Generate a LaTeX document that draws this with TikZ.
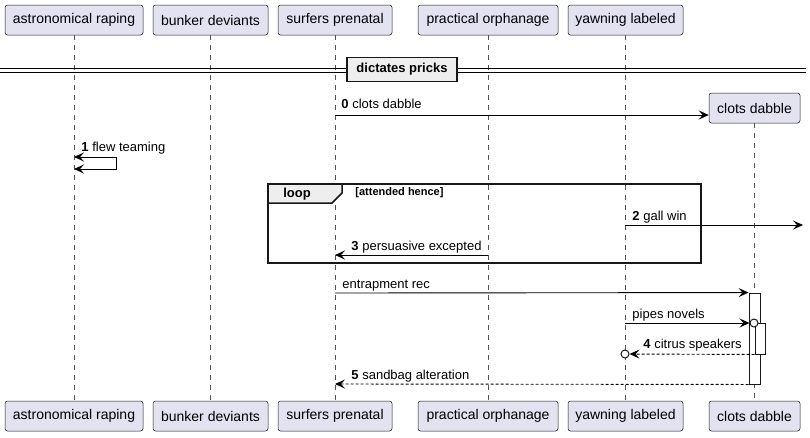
\documentclass[tikz,border=0pt]{standalone}
\usepackage{fontspec}
\setmainfont{Liberation Sans}
\usetikzlibrary{arrows.meta,positioning,shapes.misc}
\definecolor{partfill}{HTML}{E2E2F0}
\definecolor{partline}{HTML}{181818}
\definecolor{grpfill}{HTML}{EEEEEE}

\begin{document}
\begin{tikzpicture}
[x=1pt, y=-1pt, line width=0.9pt, >={Stealth[length=10pt,width=9pt,inset=4pt]},
part/.style={rectangle, rounded corners=2.5pt, draw=partline, line width=0.5pt, fill=partfill, minimum height=30pt, inner xsep=3pt, font=\fontsize{14}{16}\selectfont},
life/.style={draw=partline!75, line width=0.5pt, dash pattern=on 5pt off 5pt},
msg/.style={->, line width=0.9pt},
reply/.style={->, line width=0.9pt, dash pattern=on 3pt off 2pt},
lbl/.style={anchor=base west, inner sep=0pt, font=\fontsize{13}{15}\selectfont},
actbox/.style={rectangle, draw=partline, fill=white, line width=0.9pt, minimum width=11pt, inner sep=0pt},
endo/.style={circle, draw=partline, fill=white, line width=1pt, minimum size=8pt, inner sep=0pt},
grp/.style={rectangle, draw=partline, fill=grpfill, line width=1.5pt, inner xsep=2pt, font=\fontsize{13}{15}\selectfont\bfseries}]

\useasboundingbox (0,0) rectangle (810,437);

% participants, top
\node[part, minimum width=138pt] (astro) at (74,20) {astronomical raping};
\node[part, minimum width=115pt] (bunker) at (210.5,20) {bunker deviants};
\node[part, minimum width=114pt] (surf) at (335,20) {surfers prenatal};
\node[part, minimum width=140pt] (pract) at (488,20) {practical orphanage};
\node[part, minimum width=115pt] (yawn) at (625.5,20) {yawning labeled};

% participants, bottom
\node[part, minimum width=138pt] (astroB) at (74,416) {astronomical raping};
\node[part, minimum width=115pt] (bunkerB) at (210.5,416) {bunker deviants};
\node[part, minimum width=114pt] (surfB) at (335,416) {surfers prenatal};
\node[part, minimum width=140pt] (practB) at (488,416) {practical orphanage};
\node[part, minimum width=115pt] (yawnB) at (625.5,416) {yawning labeled};
\node[part, minimum width=91pt] (clotsB) at (754.5,416) {clots dabble};

% created participant
\node[part, minimum width=91pt] (clots) at (754.5,108) {clots dabble};

% lifelines
\draw[life] (astro) -- (astroB);
\draw[life] (bunker) -- (bunkerB);
\draw[life] (surf) -- (surfB);
\draw[life] (pract) -- (practB);
\draw[life] (yawn) -- (yawnB);
\draw[life] (clots) -- (clotsB);

% divider
\draw (0,68) -- (806,68);
\draw (0,72) -- (806,72);
\node[grp, minimum width=110pt, minimum height=24pt] (divider) at (402,69.5) {dictates pricks};

% message 0
\coordinate (s0) at (335,115);
\draw[msg] (s0) -- (clots.west |- s0);
\node[lbl] (l0) at (341,108) {\textbf{0} clots dabble};

% message 1, self
\coordinate (a1) at (74,157);
\coordinate (a1r) at (116,157);
\coordinate (a1b) at (116,169);
\coordinate (a1e) at (74,169);
\draw[<->] (a1) -- (a1r) -- (a1b) -- (a1e);
\node[lbl] (l1) at (81,151) {\textbf{1} flew teaming};

% loop frame
\draw[line width=1.5pt, draw=partline] (268,184) rectangle (701,263);
\draw[line width=1.5pt, draw=partline, fill=grpfill] (268,184) -- (342,184) -- (342,193) -- (332,203) -- (268,203) -- cycle;
\node[font=\fontsize{13}{15}\selectfont\bfseries, inner sep=0pt] (looptag) at (297,194) {loop};
\node[anchor=west, inner sep=0pt, font=\fontsize{11}{13}\selectfont\bfseries] (loopcond) at (355,193) {[attended hence]};

% message 2
\coordinate (y2) at (625,225);
\coordinate (edge2) at (803,225);
\draw[msg] (y2) -- (edge2);
\node[lbl] (l2) at (632,220) {\textbf{2} gall win};

% message 3
\coordinate (p3) at (488,255);
\coordinate (s3) at (335,255);
\draw[msg] (p3) -- (s3);
\node[lbl] (l3) at (351,250) {\textbf{3} persuasive excepted};

% activations
\node[actbox, minimum height=91pt] (act1) at (754.5,338.5) {};
\node[actbox, minimum height=31pt, minimum width=10pt] (act2) at (760,338.5) {};

% entrapment rec
\coordinate (s4) at (335,293);
\draw[msg] (s4) -- (act1.north west);
\node[lbl] (l4) at (342,288) {entrapment rec};

% pipes novels
\coordinate (y5) at (625,323);
\node[endo] (o1) at (754,323) {};
\draw[msg] (y5) -- (o1);
\node[lbl] (l5) at (632,318) {pipes novels};

% citrus speakers
\node[endo] (o2) at (625,354) {};
\draw[reply] (act2.south west) -- (o2);
\node[lbl] (l6) at (643,348) {\textbf{4} citrus speakers};

% sandbag alteration
\coordinate (s7) at (335,384);
\draw[reply] (act1.south west) -- (s7);
\node[lbl] (l7) at (351,379) {\textbf{5} sandbag alteration};
\end{tikzpicture}
\end{document}
